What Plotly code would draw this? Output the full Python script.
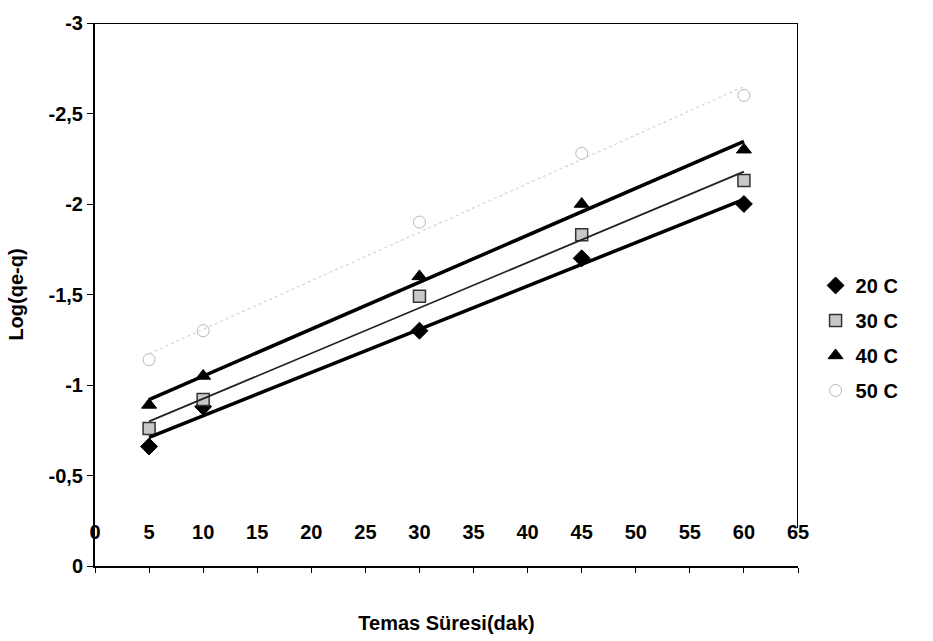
import numpy as np
import plotly.graph_objects as go

# ---- data ----
time_min = [5, 10, 30, 45, 60]
series_names = ["20 C", "30 C", "40 C", "50 C"]
log_20 = [-0.66, -0.88, -1.30, -1.70, -2.00]
log_30 = [-0.76, -0.92, -1.49, -1.83, -2.13]
log_40 = [-0.89, -1.05, -1.60, -2.00, -2.30]
log_50 = [-1.14, -1.30, -1.90, -2.28, -2.60]

x_tick_vals = [0, 5, 10, 15, 20, 25, 30, 35, 40, 45, 50, 55, 60, 65]
x_tick_text = ["0", "5", "10", "15", "20", "25", "30", "35", "40", "45", "50", "55", "60", "65"]
y_tick_vals = [0, -0.5, -1, -1.5, -2, -2.5, -3]
y_tick_text = ["0", "-0,5", "-1", "-1,5", "-2", "-2,5", "-3"]

FONT = "Liberation Sans, Arial, sans-serif"
FS = 20
bold = dict(family=FONT, size=FS, color="black", weight="bold")

series = [log_20, log_30, log_40, log_50]
markers = [
    dict(symbol="diamond", size=13, color="black", line=dict(color="black", width=1)),
    dict(symbol="square", size=12, color="#c8c8c8", line=dict(color="#333333", width=1.5)),
    dict(symbol="triangle-up", size=13, color="black", line=dict(color="black", width=1)),
    dict(symbol="circle-open", size=12, color="#b8b8b8", line=dict(color="#b8b8b8", width=1)),
]
trend_styles = [
    dict(color="black", width=3.5),
    dict(color="#222222", width=1.8),
    dict(color="black", width=3.5),
    dict(color="#d4d4d4", width=1.2, dash="dot"),
]

fig = go.Figure()

# trendlines (least-squares fit of each series) -- drawn on the overlay x axis
x_arr = np.array(time_min, dtype=float)
for vals, st in zip(series, trend_styles):
    k, b = np.polyfit(x_arr, np.array(vals), 1)
    xs = np.array([x_arr.min(), x_arr.max()])
    fig.add_trace(go.Scatter(x=xs, y=k * xs + b, mode="lines", line=st,
                             xaxis="x2", yaxis="y",
                             showlegend=False, hoverinfo="skip"))

for i, (name, vals, mk) in enumerate(zip(series_names, series, markers)):
    fig.add_trace(go.Scatter(x=time_min, y=vals, mode="markers", name=name,
                             marker=mk, legendgroup=f"g{i}"))

# partial right border and top border of the plot area (as in the original)
fig.add_shape(type="line", xref="x", yref="y", x0=65, x1=65, y0=-0.21, y1=-3,
              line=dict(color="black", width=2))
fig.add_shape(type="line", xref="x", yref="y", x0=0, x1=65, y0=-3, y1=-3,
              line=dict(color="black", width=2))

fig.update_layout(
    width=933, height=641,
    margin=dict(l=95, r=135, t=14, b=74),
    paper_bgcolor="white", plot_bgcolor="white",
    font=bold,
    legend=dict(x=1.025, xanchor="left", y=0.42, yanchor="middle",
                font=bold, tracegroupgap=6, bgcolor="rgba(0,0,0,0)"),
    # the bottom axis line with its tick marks and title
    xaxis=dict(range=[0, 65], tickvals=x_tick_vals, showticklabels=False,
               showgrid=False, zeroline=False, showline=True, linecolor="black",
               linewidth=2, ticks="outside", ticklen=5, tickcolor="black",
               title=dict(text="Temas Süresi(dak)", standoff=44, font=bold)),
    # tick labels of the x axis sit above the axis line, inside the plot area
    xaxis2=dict(range=[0, 65], overlaying="x", anchor="free", position=0.088,
                side="bottom", tickvals=x_tick_vals, ticktext=x_tick_text,
                showgrid=False, zeroline=False, showline=False, ticks="",
                tickfont=bold),
    yaxis=dict(range=[0, -3], tickvals=y_tick_vals, ticktext=y_tick_text,
               showgrid=False, zeroline=False, showline=True, linecolor="black",
               linewidth=2, ticks="outside", ticklen=6, tickcolor="black",
               tickfont=bold,
               title=dict(text="Log(qe-q)", standoff=20, font=bold)),
)

fig.write_html("out.html")
